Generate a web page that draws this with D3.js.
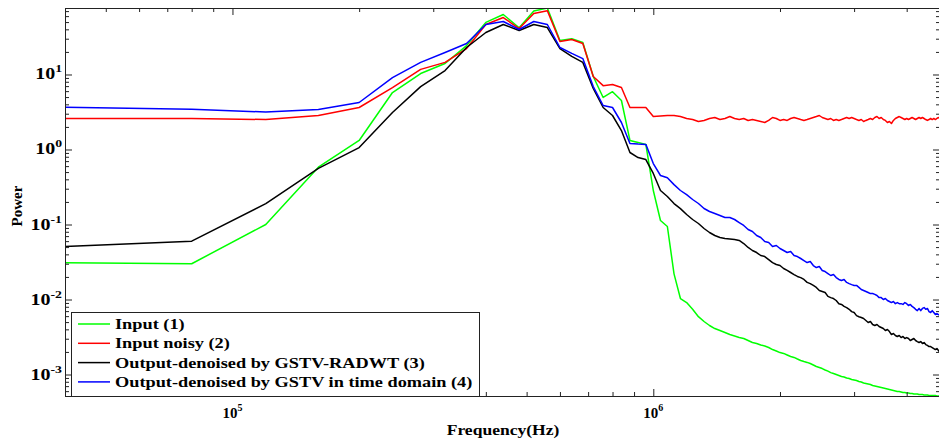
<!DOCTYPE html>
<html>
<head>
<meta charset="utf-8">
<script src="https://cdn.jsdelivr.net/npm/d3@7"></script>
<style>
  body { margin: 0; background: #fff; }
  text { font-family: "Liberation Serif", "DejaVu Serif", serif; font-weight: bold; fill: #000; }
</style>
</head>
<body>
<svg id="chart" width="939" height="442"></svg>
<script>
// FFT bins: point i sits at (i + 1) * binHz
const binHz = 40000;

const seriesNames = [
  'Input (1)',
  'Input noisy (2)',
  'Output-denoised by GSTV-RADWT (3)',
  'Output-denoised by GSTV in time domain (4)'
];
const seriesColors = ['#00ff00', '#ff0000', '#000000', '#0000ff'];

const inputPower = [
  0.031, 0.030, 0.10, 0.58, 1.32, 5.75, 10.3, 14, 24.3, 49.5,
  63, 42, 70, 77, 28.4, 30, 26.7, 9.4, 4.94, 5.9,
  4.5, 1.32, 1.24, 1.17, 0.284, 0.113, 0.094, 0.022, 0.0103, 0.0091,
  0.0074, 0.0059, 0.00509, 0.0045, 0.0041, 0.00386, 0.00363, 0.00341, 0.00326, 0.00311,
  0.00302, 0.00284, 0.00267, 0.00259, 0.00247, 0.0024, 0.00229, 0.00215, 0.00206, 0.00196,
  0.00191, 0.00182, 0.00174, 0.00169, 0.00161, 0.00154, 0.00149, 0.00145, 0.0014, 0.00134,
  0.00128, 0.00124, 0.0012, 0.00115, 0.00111, 0.00106, 0.00103, 0.001, 0.00097, 0.00094,
  0.000926, 0.000898, 0.000885, 0.000858, 0.000845, 0.000832, 0.000807, 0.000794, 0.00077, 0.000759,
  0.000747, 0.000736, 0.000713, 0.000703, 0.000692, 0.000681, 0.000671, 0.000661, 0.000651, 0.000641,
  0.000631, 0.000621, 0.000612, 0.000603, 0.000593, 0.000593, 0.000584, 0.000575, 0.000575, 0.000567,
  0.000567, 0.000558, 0.000558, 0.00055, 0.00055, 0.00055, 0.000541, 0.000541, 0.000541, 0.000533,
  0.000533, 0.000533, 0.000525, 0.000525, 0.000525, 0.000525, 0.000525, 0.000517, 0.000517, 0.000517
];

const noisyPower = [
  2.59, 2.59, 2.51, 2.84, 3.63, 6.7, 11.7, 14.5, 22.2, 46.4,
  57.5, 41, 65, 71, 27.5, 29.3, 25.9, 9.4, 7.1, 7.35,
  6.7, 3.63, 3.63, 3.63, 2.75, 2.8, 2.84, 2.84, 2.75, 2.59,
  2.51, 2.36, 2.44, 2.59, 2.67, 2.51, 2.59, 2.75, 2.59, 2.51,
  2.59, 2.44, 2.51, 2.44, 2.36, 2.29, 2.44, 2.67, 2.59, 2.44,
  2.51, 2.44, 2.59, 2.67, 2.59, 2.51, 2.44, 2.51, 2.59, 2.67,
  2.75, 2.84, 2.67, 2.59, 2.51, 2.59, 2.44, 2.51, 2.44, 2.51,
  2.59, 2.67, 2.59, 2.67, 2.59, 2.51, 2.44, 2.51, 2.36, 2.44,
  2.51, 2.59, 2.51, 2.67, 2.75, 2.59, 2.67, 2.51, 2.44, 2.29,
  2.36, 2.22, 2.44, 2.59, 2.67, 2.75, 2.67, 2.59, 2.51, 2.59,
  2.51, 2.59, 2.67, 2.59, 2.51, 2.59, 2.67, 2.59, 2.67, 2.59,
  2.51, 2.44, 2.51, 2.59, 2.51, 2.59, 2.51, 2.59, 2.67, 2.59
];

const radwtPower = [
  0.051, 0.060, 0.19, 0.56, 1.06, 3.11, 6.9, 11.3, 22.9, 36.3,
  46.4, 38.6, 46.4, 42.3, 22.2, 17.4, 14.5, 6.5, 3.63, 2.84,
  1.79, 0.912, 0.78, 0.735, 0.479, 0.284, 0.236, 0.19, 0.163, 0.136,
  0.1166, 0.1031, 0.0885, 0.0782, 0.0713, 0.0671, 0.0651, 0.0641, 0.0631, 0.0612,
  0.0558, 0.0494, 0.045, 0.0423, 0.0386, 0.0374, 0.0341, 0.0311, 0.0293, 0.0284,
  0.0259, 0.0244, 0.0229, 0.0215, 0.0203, 0.0196, 0.0185, 0.0169, 0.0163, 0.0154,
  0.0145, 0.0132, 0.0128, 0.0124, 0.011, 0.0106, 0.0103, 0.0097, 0.0088, 0.0086,
  0.0081, 0.0078, 0.0074, 0.0069, 0.0067, 0.0061, 0.0059, 0.00575, 0.00558, 0.00525,
  0.00494, 0.00509, 0.00464, 0.0045, 0.00464, 0.00437, 0.00423, 0.0041, 0.00386, 0.00398,
  0.00374, 0.00341, 0.00352, 0.00331, 0.00321, 0.00331, 0.00311, 0.00321, 0.00302, 0.00311,
  0.00302, 0.00284, 0.00293, 0.00302, 0.00284, 0.00275, 0.00267, 0.00275, 0.00259, 0.00267,
  0.00251, 0.00244, 0.00236, 0.00236, 0.00229, 0.00222, 0.00215, 0.00222, 0.00209, 0.00196
];

const gstvPower = [
  3.66, 3.45, 3.16, 3.41, 4.23, 9.1, 14.5, 19.6, 25.9, 46.4,
  50.9, 39.8, 50.9, 46.4, 22.9, 19.1, 16.3, 6.9, 3.86, 3.63,
  2.29, 1.2, 1.18, 1.17, 0.65, 0.45, 0.42, 0.34, 0.284, 0.25,
  0.2154, 0.1905, 0.1634, 0.149, 0.1402, 0.1318, 0.124, 0.124, 0.1166, 0.1063,
  0.097, 0.0858, 0.0807, 0.0713, 0.0671, 0.0593, 0.0575, 0.0509, 0.0525, 0.0479,
  0.045, 0.0423, 0.0437, 0.0386, 0.0374, 0.0352, 0.0331, 0.0311, 0.0321, 0.0284,
  0.0267, 0.0275, 0.0244, 0.0236, 0.0222, 0.0209, 0.0215, 0.0196, 0.0185, 0.0179,
  0.0185, 0.0169, 0.0163, 0.0158, 0.0154, 0.0154, 0.0145, 0.0136, 0.0132, 0.0128,
  0.0124, 0.012, 0.012, 0.0117, 0.0113, 0.0106, 0.0106, 0.01, 0.0103, 0.0097,
  0.0094, 0.0091, 0.0094, 0.0088, 0.0091, 0.0088, 0.0088, 0.0086, 0.0091, 0.0088,
  0.0083, 0.0086, 0.0081, 0.0078, 0.0074, 0.0071, 0.0076, 0.0071, 0.0076, 0.0078,
  0.0074, 0.0076, 0.0069, 0.0067, 0.0071, 0.0067, 0.0063, 0.0065, 0.0063, 0.0061
];

const series = [inputPower, noisyPower, radwtPower, gstvPower].map((values, i) => ({
  name: seriesNames[i], color: seriesColors[i], values
}));

const plot = { left: 65, top: 8, right: 940, bottom: 396 };
const svg = d3.select('#chart');

const x = d3.scaleLog().domain([binHz, binHz * inputPower.length]).range([plot.left, plot.right]);
const y = d3.scaleLog().domain(d3.extent(series.flatMap((s) => s.values))).range([plot.bottom, plot.top]);

const isDecade = (t) => Math.abs(Math.log10(t) - Math.round(Math.log10(t))) < 1e-6;
const xTicks = x.ticks();
const yTicks = y.ticks();

svg.append('defs').append('clipPath').attr('id', 'plot-clip')
  .append('rect')
  .attr('x', plot.left).attr('y', plot.top)
  .attr('width', plot.right - plot.left).attr('height', plot.bottom - plot.top);

// curves
const line = d3.line().x((d, i) => x((i + 1) * binHz)).y((d) => y(d));
svg.append('g').attr('clip-path', 'url(#plot-clip)')
  .selectAll('path.curve').data(series).join('path')
  .classed('curve', true)
  .attr('d', (d) => line(d.values))
  .attr('fill', 'none')
  .attr('stroke', (d) => d.color)
  .attr('stroke-width', 1.5)
  .attr('stroke-linejoin', 'round');

// inward ticks on all four sides, minor shorter than major
function tickAxis(axisFn, scale, ticks, translate) {
  [[ticks.filter((t) => !isDecade(t)), -4], [ticks.filter(isDecade), -7]].forEach(([vals, size]) => {
    const g = svg.append('g').attr('transform', translate)
      .call(axisFn(scale).tickValues(vals).tickSize(size).tickFormat(''));
    g.select('.domain').remove();
    g.selectAll('line').attr('stroke', '#222');
  });
}
tickAxis(d3.axisBottom, x, xTicks, `translate(0,${plot.bottom})`);
tickAxis(d3.axisTop, x, xTicks, `translate(0,${plot.top})`);
tickAxis(d3.axisLeft, y, yTicks, `translate(${plot.left},0)`);
tickAxis(d3.axisRight, y, yTicks, `translate(${plot.right},0)`);

svg.append('rect')
  .attr('x', plot.left + 0.5).attr('y', plot.top + 0.5)
  .attr('width', plot.right - plot.left).attr('height', plot.bottom - plot.top)
  .attr('fill', 'none').attr('stroke', '#222');

// power-of-ten labels
const yLabels = svg.append('g').selectAll('g').data(yTicks.filter(isDecade)).join('g')
  .attr('transform', (d) => `translate(62,${y(d) + 5}) scale(1.25,1)`);
const yText = yLabels.append('text').attr('text-anchor', 'end').attr('font-size', 16).text('10');
yText.append('tspan').attr('dy', -7).attr('font-size', 11).text((d) => String(Math.round(Math.log10(d))));

const xLabels = svg.append('g').selectAll('g').data(xTicks.filter(isDecade)).join('g')
  .attr('transform', (d) => `translate(${x(d)},418)`);
const xText = xLabels.append('text').attr('text-anchor', 'middle').attr('font-size', 15).text('10');
xText.append('tspan').attr('dy', -7).attr('font-size', 10).text((d) => String(Math.round(Math.log10(d))));

svg.append('text')
  .attr('transform', 'translate(503,435) scale(1.17,1)')
  .attr('text-anchor', 'middle').attr('font-size', 15)
  .text('Frequency(Hz)');

svg.append('text')
  .attr('transform', 'translate(22,206) rotate(-90)')
  .attr('text-anchor', 'middle').attr('font-size', 15)
  .text('Power');

// legend
const legend = svg.append('g').attr('transform', 'translate(71,312)');
legend.append('rect')
  .attr('x', 0.5).attr('y', 0.5).attr('width', 408).attr('height', 84)
  .attr('fill', '#fff').attr('stroke', '#222');
const legendRows = legend.selectAll('g.row').data(series).join('g')
  .classed('row', true)
  .attr('transform', (d, i) => `translate(0,${12 + i * 19.3})`);
legendRows.append('line')
  .attr('x1', 7).attr('x2', 39).attr('y1', 0).attr('y2', 0)
  .attr('stroke', (d) => d.color).attr('stroke-width', 1.5);
legendRows.append('text')
  .attr('transform', 'translate(44,5) scale(1.22,1)')
  .attr('font-size', 15)
  .text((d) => d.name);
</script>
</body>
</html>
